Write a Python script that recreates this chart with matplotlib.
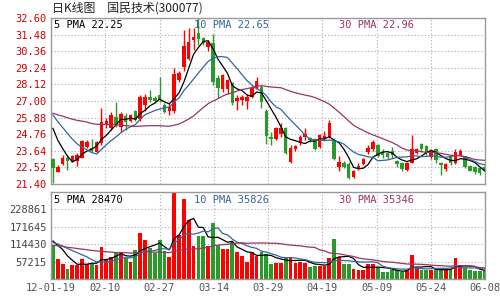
import numpy as np
import pandas as pd
import matplotlib
matplotlib.use("Agg")
import matplotlib.pyplot as plt

# daily candles 2012-01-19 .. 2012-06-08
opens = [23.08, 22.23, 22.75, 23.13, 22.91, 22.92, 23.17, 23.92, 23.85, 23.58,
         24.14, 25.38, 25.15, 25.94, 25.27, 26.01, 25.65, 26.32, 25.80, 26.70,
         27.30, 27.20, 27.42, 26.75, 26.30, 26.30, 28.40, 29.31, 29.85, 31.11,
         31.56, 31.25, 30.66, 30.89, 28.55, 27.80, 27.80, 28.19, 27.00, 27.07,
         27.00, 27.30, 27.90, 27.96, 26.35, 24.55, 24.42, 24.78, 25.16, 22.91,
         23.74, 24.15, 24.55, 24.51, 24.44, 23.88, 24.42, 24.55, 24.37, 22.53,
         22.84, 22.75, 21.85, 22.39, 22.75, 23.52, 23.74, 24.03, 23.58, 23.47,
         23.65, 22.95, 22.80, 22.35, 22.84, 23.47, 24.08, 23.97, 23.20, 23.74,
         22.84, 22.39, 23.20, 22.80, 23.36, 23.25, 22.62, 22.53, 22.46, 22.55]
highs = [23.12, 22.65, 23.35, 23.35, 23.35, 23.50, 24.35, 24.37, 24.43, 24.30,
         26.50, 25.83, 26.23, 26.95, 26.23, 26.17, 26.10, 26.39, 27.40, 27.45,
         27.74, 27.35, 28.64, 26.85, 26.84, 29.20, 29.00, 31.80, 31.95, 31.90,
         32.57, 31.35, 31.10, 31.50, 28.75, 28.85, 28.50, 28.30, 27.40, 27.40,
         27.50, 28.00, 28.60, 28.05, 26.45, 24.93, 25.25, 25.50, 25.25, 24.03,
         24.05, 24.71, 25.16, 24.60, 24.50, 24.75, 25.00, 25.72, 24.48, 23.25,
         22.95, 22.85, 22.35, 22.80, 23.15, 24.03, 24.37, 24.10, 23.74, 23.55,
         23.92, 23.02, 22.85, 22.90, 24.71, 23.85, 24.19, 24.03, 23.74, 23.81,
         22.91, 22.80, 23.36, 23.74, 23.74, 23.30, 22.70, 22.60, 22.57, 22.80]
lows = [21.45, 22.18, 22.65, 22.34, 22.85, 22.60, 23.12, 23.80, 23.58, 23.50,
        24.03, 25.15, 25.04, 25.27, 24.93, 25.04, 25.55, 25.65, 25.65, 26.30,
        26.95, 26.85, 26.90, 26.20, 26.05, 26.20, 28.30, 29.00, 29.75, 30.45,
        30.80, 30.75, 30.40, 28.10, 27.20, 27.60, 27.50, 26.75, 26.40, 26.70,
        26.46, 27.20, 27.80, 26.50, 24.10, 24.04, 24.35, 24.60, 23.40, 22.80,
        23.65, 24.04, 24.37, 24.26, 23.70, 23.80, 24.37, 24.48, 23.02, 22.24,
        22.45, 21.70, 21.80, 22.35, 22.70, 23.43, 23.65, 23.20, 23.13, 23.10,
        23.13, 22.57, 22.30, 22.30, 22.80, 23.40, 23.58, 23.36, 23.07, 22.80,
        22.01, 22.30, 22.68, 22.75, 23.25, 22.45, 22.24, 22.05, 22.01, 22.12]
closes = [22.50, 22.57, 23.17, 22.95, 23.25, 23.33, 24.30, 24.25, 23.62, 24.25,
          25.60, 25.65, 26.05, 25.38, 26.12, 25.60, 26.05, 25.72, 27.25, 27.25,
          27.07, 27.00, 27.07, 26.28, 26.62, 28.84, 28.92, 30.70, 30.95, 31.34,
          31.16, 30.89, 31.00, 28.30, 27.85, 28.75, 28.41, 26.84, 27.20, 27.29,
          27.29, 27.90, 28.35, 26.90, 24.66, 24.44, 25.16, 25.16, 23.47, 23.81,
          23.97, 24.60, 24.78, 24.33, 23.74, 24.71, 24.64, 25.54, 23.09, 22.91,
          22.53, 21.79, 22.28, 22.62, 23.07, 23.81, 24.26, 23.25, 23.36, 23.20,
          23.36, 22.75, 22.39, 22.84, 23.74, 23.74, 23.74, 23.47, 23.65, 23.02,
          22.68, 22.75, 22.84, 23.58, 23.65, 22.53, 22.30, 22.17, 22.15, 22.30]
volumes = [111800, 64800, 50700, 34300, 46300, 46300, 64800, 50700, 50700, 46300,
           105100, 64800, 72400, 85500, 89900, 70300, 57200, 94300, 152000, 127000,
           100800, 84400, 127000, 92000, 73500, 286000, 145000, 263000, 195000, 107000,
           141000, 141000, 108000, 185000, 112000, 100000, 100000, 123000, 90000, 76000,
           57000, 90000, 76000, 90000, 83000, 48000, 54000, 54000, 73000, 73000,
           51000, 56000, 54000, 41000, 44000, 44000, 44000, 70000, 132000, 73000,
           48000, 50000, 34000, 30000, 30000, 50000, 48000, 38000, 22500, 22500,
           30000, 30000, 22500, 30000, 78000, 36000, 31000, 29000, 29000, 34000,
           31000, 29000, 34000, 70000, 46000, 36000, 28000, 27000, 26000, 25500]

# sessions before the window, estimated from where the averages enter the chart
pre_close = [25.6, 25.9, 26.3, 26.1, 25.7, 25.8, 26.2, 26.4, 26.0, 25.7,
             25.9, 26.2, 26.2, 26.4, 26.7, 26.9, 26.5, 26.6, 26.8, 26.6,
             27.0, 27.2, 26.9, 27.05, 26.6, 26.55, 26.0, 25.5, 25.2]
pre_volume = [120000, 105000, 130000, 98000, 112000, 125000, 108000, 117000, 101000, 134000,
              110000, 123000, 119500, 95000, 82000, 88000, 92000, 85000, 97000, 88500,
              110000, 125000, 108000, 120000, 112000, 135000, 120000, 140000, 118000]

date_labels = ['12-01-19', '02-10', '02-27', '03-14', '03-29', '04-19', '05-09', '05-24', '06-08']
price_ticks = [21.40, 22.52, 23.64, 24.76, 25.88, 27.00, 28.12, 29.24, 30.36, 31.48, 32.60]
vol_ticks = [57215, 114430, 171645, 228861]
vol_top = 286076

price_ma_text = ['5 PMA 22.25', '10 PMA 22.65', '30 PMA 22.96']
vol_ma_text = ['5 PMA 28470', '10 PMA 35826', '30 PMA 35346']

RED = '#ff0000'
GREEN = '#2a9a2a'
MA_COLORS = ['#000000', '#336699', '#993366']
MONO = 'DejaVu Sans Mono'

n = len(closes)
x = np.arange(n)
o = np.array(opens)
c = np.array(closes)
up = c >= o
colors = np.where(up, RED, GREEN)

cs = pd.Series(pre_close + closes)
vs = pd.Series(pre_volume + volumes)
price_ma = [cs.rolling(w).mean().values[-n:] for w in (5, 10, 30)]
vol_ma = [vs.rolling(w).mean().values[-n:] for w in (5, 10, 30)]

fig = plt.figure(figsize=(5, 3), dpi=100)
ax1 = fig.add_axes([0.102, 0.387, 0.868, 0.553])
ax2 = fig.add_axes([0.102, 0.07, 0.868, 0.29])

xmin, xmax = -0.4, n - 0.9
grid_x = [xmin + k * (xmax - xmin) / 8 for k in range(9)]
dot = (0, (1, 2))

for ax in (ax1, ax2):
    ax.set_xlim(xmin, xmax)
    for gx in grid_x[1:-1]:
        ax.axvline(gx, color='#aaaaaa', lw=0.8, ls=dot, zorder=0)
    for s in ax.spines.values():
        s.set_color('#999999')
        s.set_linewidth(1.0)
    ax.tick_params(length=0)
    ax.set_xticks([])

# price panel
ax1.set_ylim(price_ticks[0], price_ticks[-1])
for py in price_ticks[1:-1]:
    ax1.axhline(py, color='#aaaaaa', lw=0.8, ls=dot, zorder=0)
ax1.set_yticks(price_ticks)
ax1.set_yticklabels(['%.2f' % t for t in price_ticks], color='#cc0000',
                    family=MONO, fontsize=7.5)
ax1.tick_params(axis='y', pad=3)

ax1.vlines(x, lows, highs, colors=colors, lw=1, zorder=2)
body_lo = np.minimum(o, c)
body_h = np.maximum(np.abs(c - o), 0.04)
ax1.bar(x, body_h, bottom=body_lo, width=0.72, color=colors, lw=0, zorder=3)
for ma, col in zip(price_ma, MA_COLORS):
    ax1.plot(x, ma, color=col, lw=0.9, zorder=4)

# volume panel
ax2.set_ylim(0, vol_top)
for vy in vol_ticks:
    ax2.axhline(vy, color='#aaaaaa', lw=0.8, ls=dot, zorder=0)
ax2.set_yticks(vol_ticks)
ax2.set_yticklabels([str(t) for t in vol_ticks], color='#444444',
                    family=MONO, fontsize=7.5)
ax2.tick_params(axis='y', pad=3)
ax2.bar(x, volumes, width=0.78, color=colors, lw=0, zorder=2)
for ma, col in zip(vol_ma, MA_COLORS):
    ax2.plot(x, ma, color=col, lw=0.9, zorder=4)

# legend texts inside panels
text_x = [0.006, 0.33, 0.663]
for tx, t, col in zip(text_x, price_ma_text, MA_COLORS):
    ax1.text(tx, 0.985, t, transform=ax1.transAxes, color=col, family=MONO,
             fontsize=7.5, va='top', ha='left', zorder=6)
for tx, t, col in zip(text_x, vol_ma_text, MA_COLORS):
    ax2.text(tx, 0.97, t, transform=ax2.transAxes, color=col, family=MONO,
             fontsize=7.5, va='top', ha='left', zorder=6)

# date labels under the volume panel
for gx, lab in zip(grid_x, date_labels):
    ax2.text(gx, -0.05, lab, transform=ax2.get_xaxis_transform(), ha='center',
             va='top', color='#555555', family=MONO, fontsize=7.5)

fig.text(0.104, 0.972, '日K线图　国民技术(300077)', ha='left', va='center',
         fontsize=8.6, color='#222222', family=['Noto Sans CJK SC', 'DejaVu Sans'])

fig.savefig('out.png', dpi=100)
